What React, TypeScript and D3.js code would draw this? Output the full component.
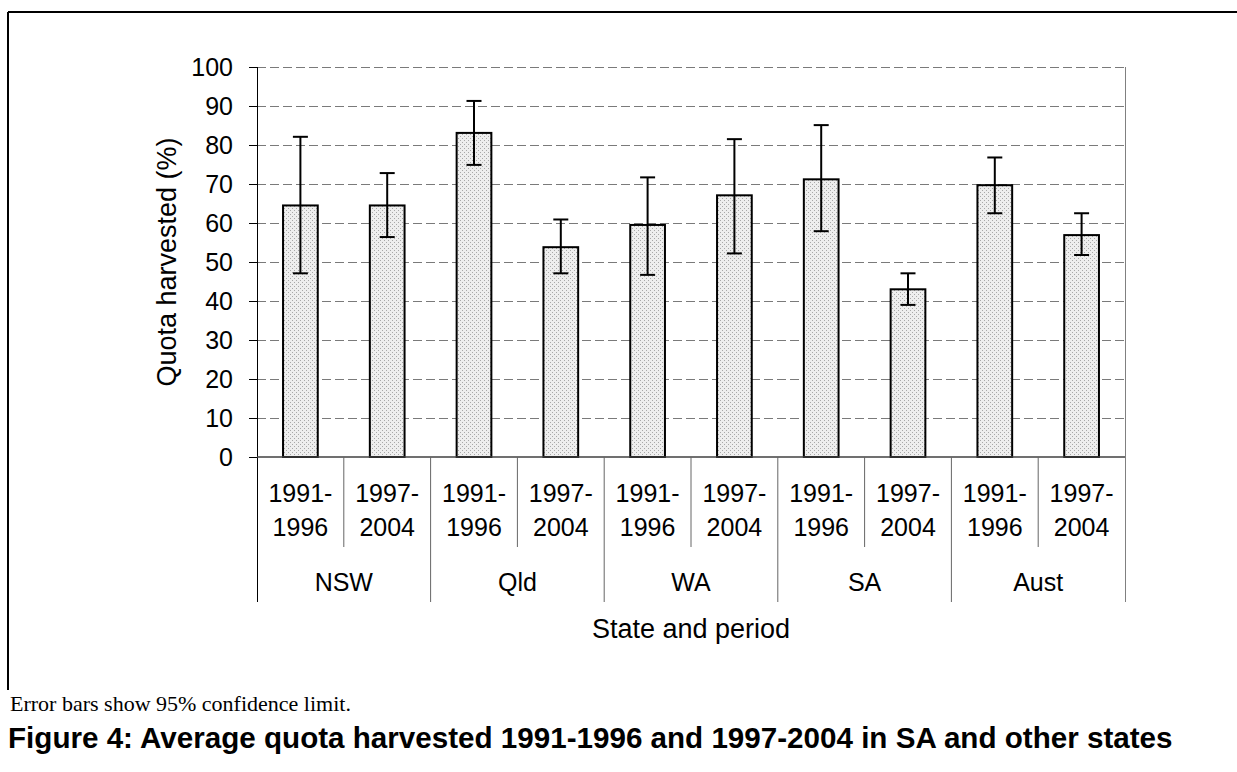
import React from 'react';
import * as d3 from 'd3';

const states = ['NSW', 'Qld', 'WA', 'SA', 'Aust'];
const periodLine1 = ['1991-', '1997-'];
const periodLine2 = ['1996', '2004'];
const means = [64.5, 64.5, 83.1, 53.8, 59.5, 67.1, 71.2, 43.0, 69.7, 56.9];
const upper = [82.1, 72.8, 91.3, 60.9, 71.7, 81.5, 85.1, 47.1, 76.8, 62.5];
const lower = [47.1, 56.4, 74.9, 47.1, 46.7, 52.2, 57.9, 39.0, 62.5, 51.8];
const yTicks = [0, 10, 20, 30, 40, 50, 60, 70, 80, 90, 100];

const W = 1237;
const H = 772;
const left = 257;
const right = 1125;
const top = 67;
const bottom = 457;

export default function App() {
  const idx = means.map((_, i) => i);
  const x = d3.scaleBand<number>().domain(idx).range([left, right]).padding(0);
  const y = d3.scaleLinear().domain([0, 100]).range([bottom, top]);
  const xs = d3.scaleBand<string>().domain(states).range([left, right]).padding(0);
  const bw = x.bandwidth() * 0.4;
  const font = 'Arial, "Liberation Sans", sans-serif';
  const capW = 15;
  const fs = 25;

  return (
    <svg width={W} height={H} style={{ position: 'absolute', left: 0, top: 0, background: '#fff' }}>
      <defs>
        <pattern id="dots" width="4" height="4" patternUnits="userSpaceOnUse">
          <rect width="4" height="4" fill="#eeeeee" />
          <rect x="0" y="0" width="1" height="1" fill="#a8a8a8" />
          <rect x="2" y="2" width="1" height="1" fill="#a8a8a8" />
        </pattern>
      </defs>
      <rect x={0} y={0} width={W} height={H} fill="#fff" />
      {/* frame */}
      <line x1={8} x2={W} y1={12} y2={12} stroke="#000" strokeWidth={2} />
      <line x1={8} x2={8} y1={12} y2={690} stroke="#000" strokeWidth={2} />

      {/* gridlines */}
      {yTicks.filter(t => t > 0).map(t => (
        <line key={'g' + t} x1={left} x2={right} y1={y(t) + 0.5} y2={y(t) + 0.5} stroke="#7a7a7a" strokeWidth={1} strokeDasharray="9,4" />
      ))}
      {/* right border */}
      <line x1={right + 0.5} x2={right + 0.5} y1={top} y2={602} stroke="#808080" strokeWidth={1} />

      {/* bars */}
      {idx.map(i => {
        const cx = (x(i) as number) + x.bandwidth() / 2;
        return (
          <rect key={'b' + i} x={cx - bw / 2} y={y(means[i])} width={bw} height={bottom - y(means[i])}
            fill="url(#dots)" stroke="#000" strokeWidth={2} />
        );
      })}
      {/* error bars */}
      {idx.map(i => {
        const cx = (x(i) as number) + x.bandwidth() / 2;
        return (
          <g key={'e' + i} stroke="#000" strokeWidth={2}>
            <line x1={cx} x2={cx} y1={y(upper[i])} y2={y(lower[i])} />
            <line x1={cx - capW / 2} x2={cx + capW / 2} y1={y(upper[i])} y2={y(upper[i])} />
            <line x1={cx - capW / 2} x2={cx + capW / 2} y1={y(lower[i])} y2={y(lower[i])} />
          </g>
        );
      })}

      {/* y axis */}
      <line x1={left + 0.5} x2={left + 0.5} y1={top} y2={602} stroke="#000" strokeWidth={1} />
      {yTicks.map(t => (
        <g key={'t' + t}>
          <line x1={left - 8} x2={left} y1={y(t) + 0.5} y2={y(t) + 0.5} stroke="#000" strokeWidth={1} />
          <text x={left - 24} y={y(t)} dy="0.35em" textAnchor="end" fontFamily={font} fontSize={fs} fill="#000">{t}</text>
        </g>
      ))}
      <text transform={`translate(167,${(top + bottom) / 2}) rotate(-90)`} textAnchor="middle" dy="0.35em"
        fontFamily={font} fontSize={27} fill="#000">Quota harvested (%)</text>

      {/* x axis */}
      <line x1={left} x2={right} y1={bottom} y2={bottom} stroke="#404040" strokeWidth={1.5} />
      {idx.filter(i => i % 2 === 1).map(i => {
        const sx = (x(i) as number);
        return <line key={'s' + i} x1={sx} x2={sx} y1={bottom} y2={547} stroke="#666" strokeWidth={1} />;
      })}
      {states.slice(1).map(s => {
        const sx = xs(s) as number;
        return <line key={'ss' + s} x1={sx} x2={sx} y1={bottom} y2={602} stroke="#666" strokeWidth={1} />;
      })}
      {idx.map(i => {
        const cx = (x(i) as number) + x.bandwidth() / 2;
        return (
          <g key={'l' + i}>
            <text x={cx} y={493} dy="0.35em" textAnchor="middle" fontFamily={font} fontSize={fs} fill="#000">{periodLine1[i % 2]}</text>
            <text x={cx} y={527} dy="0.35em" textAnchor="middle" fontFamily={font} fontSize={fs} fill="#000">{periodLine2[i % 2]}</text>
          </g>
        );
      })}
      {states.map(s => (
        <text key={'st' + s} x={(xs(s) as number) + xs.bandwidth() / 2} y={582} dy="0.35em" textAnchor="middle"
          fontFamily={font} fontSize={fs} fill="#000">{s}</text>
      ))}
      <text x={(left + right) / 2} y={629} dy="0.35em" textAnchor="middle" fontFamily={font} fontSize={27} fill="#000">State and period</text>

      {/* notes */}
      <text x={10} y={703} dy="0.35em" fontFamily='"Times New Roman", "Liberation Serif", serif' fontSize={22} fill="#000">Error bars show 95% confidence limit.</text>
      <text x={8} y={738} dy="0.35em" fontFamily={font} fontWeight="bold" fontSize={29.6} fill="#000">Figure 4: Average quota harvested 1991-1996 and 1997-2004 in SA and other states</text>
    </svg>
  );
}
